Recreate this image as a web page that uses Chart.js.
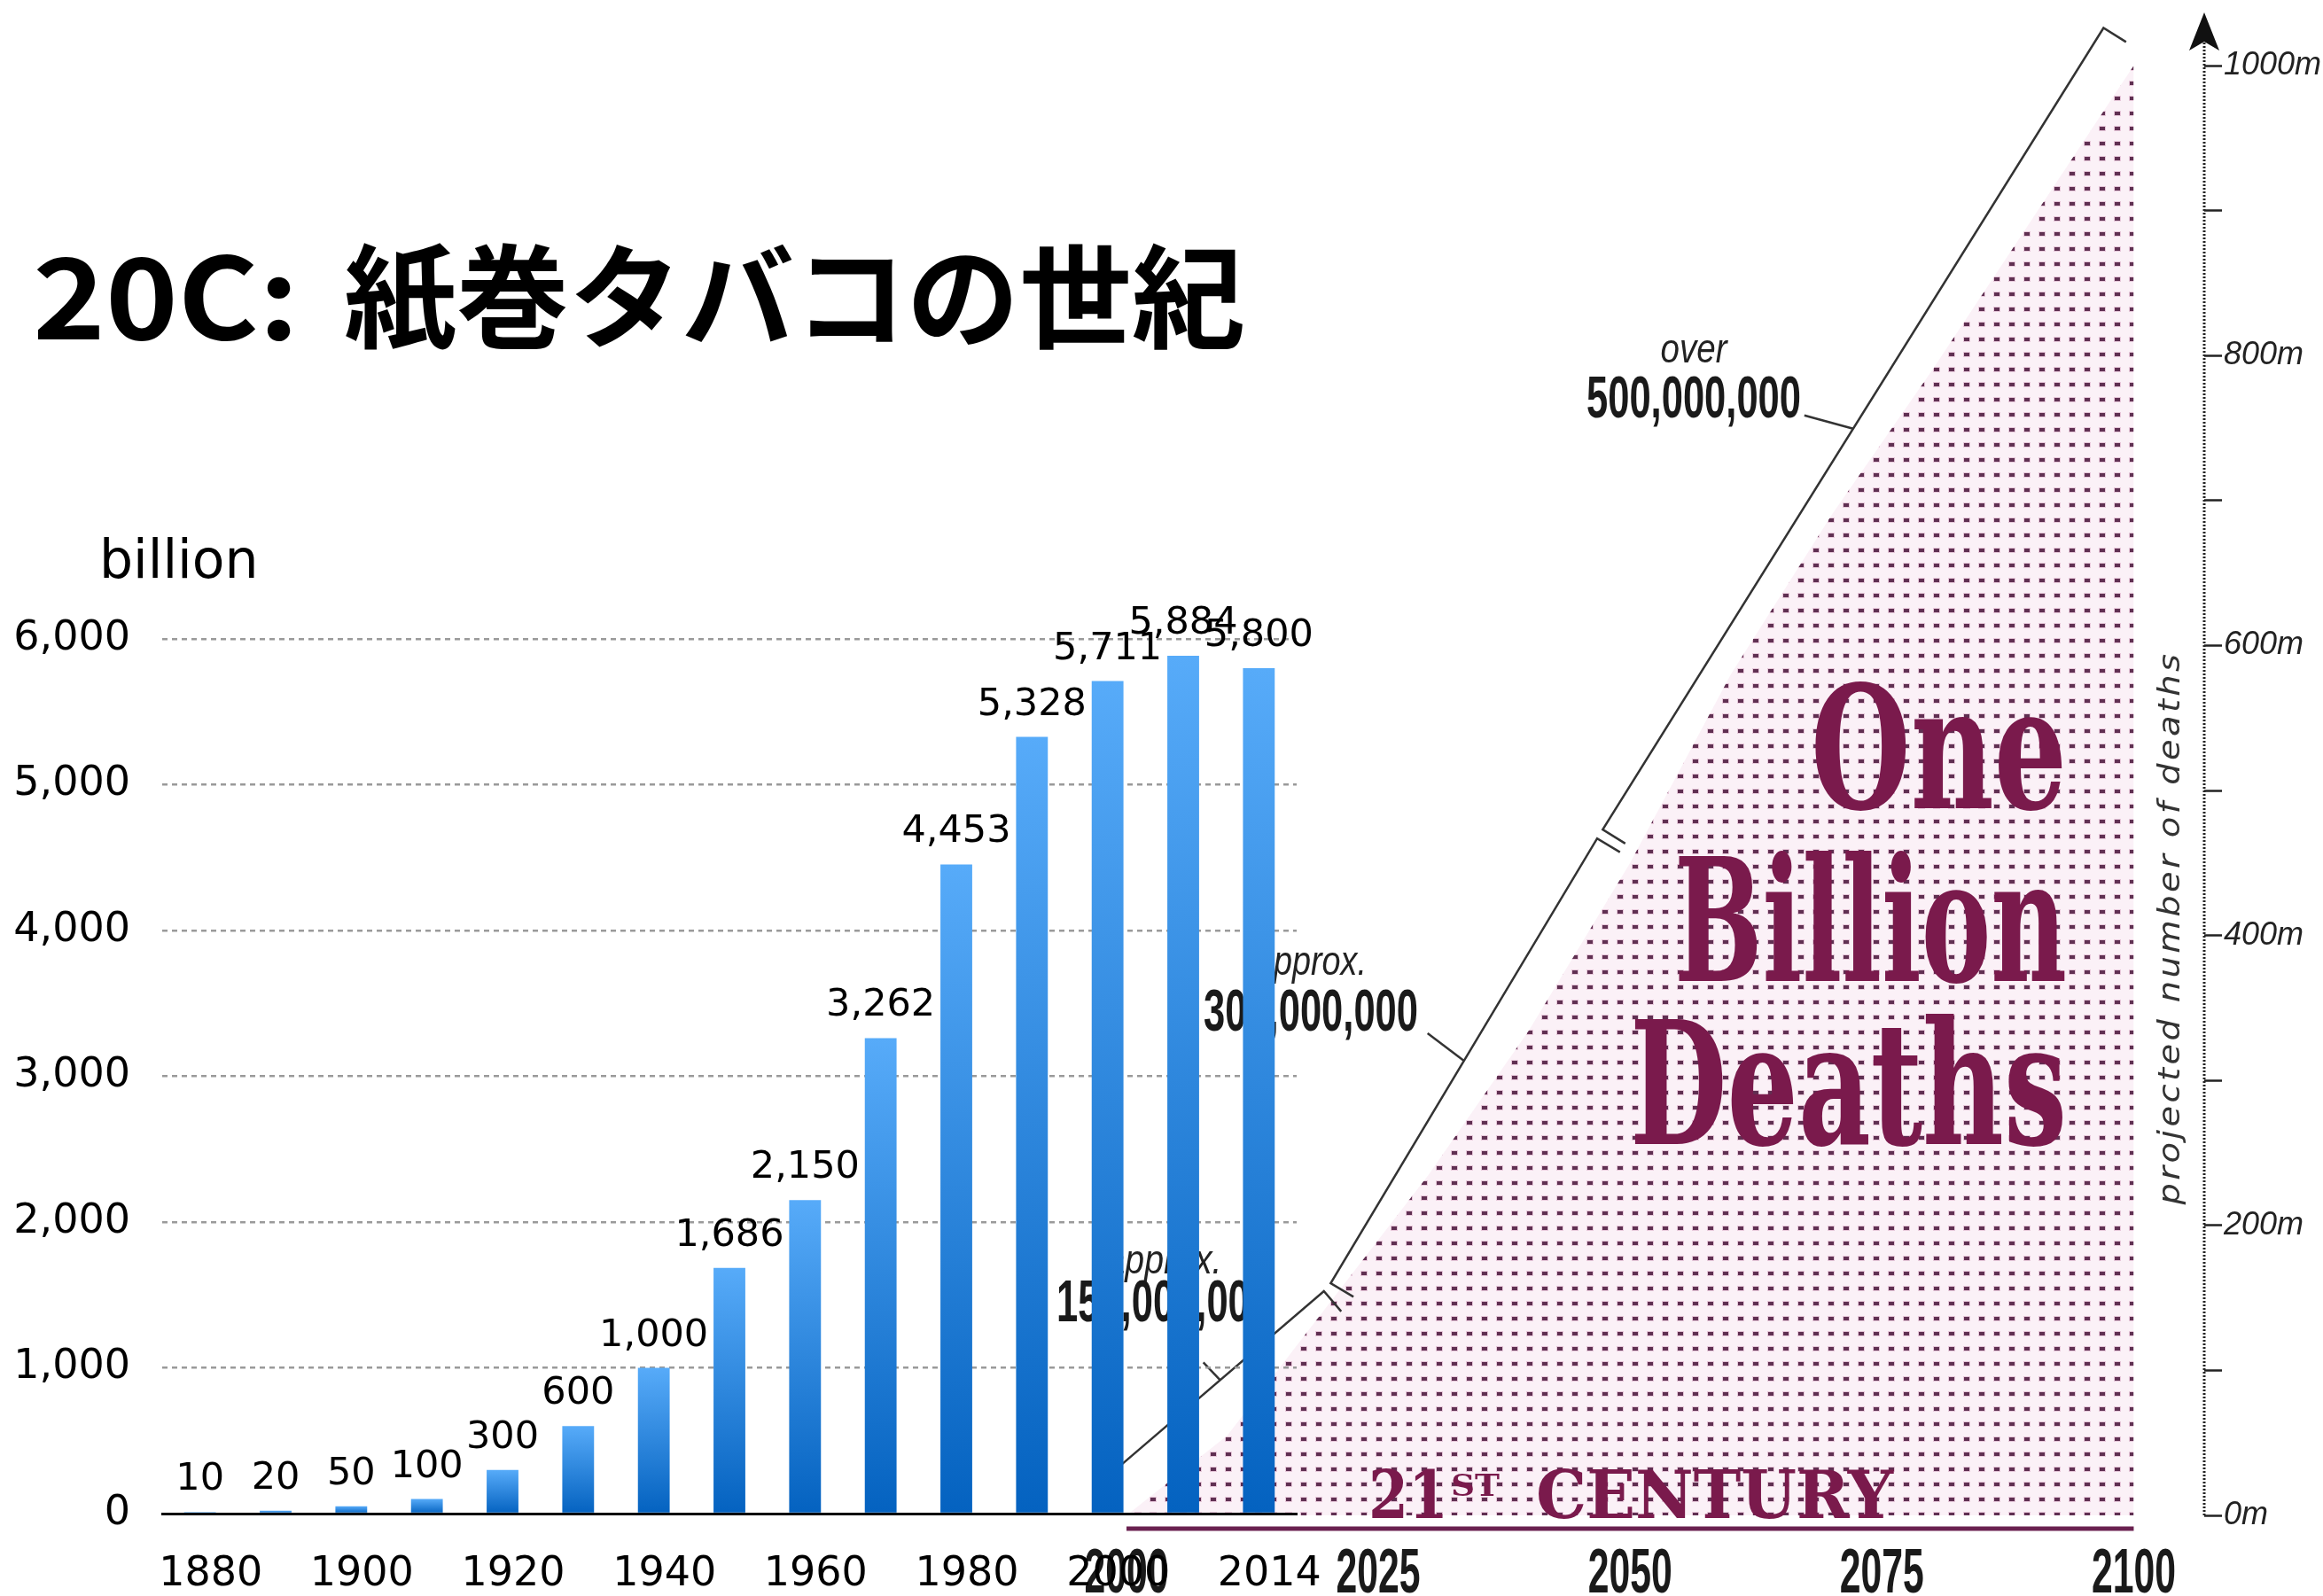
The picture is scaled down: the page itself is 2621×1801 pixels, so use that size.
<!DOCTYPE html>
<html>
<head>
<meta charset="utf-8">
<script src="https://cdn.jsdelivr.net/npm/chart.js@4.4.1/dist/chart.umd.min.js"></script>
<style>
  html, body { margin: 0; padding: 0; background: #fff; }
  #wrap { position: relative; width: 2621px; height: 1801px; overflow: hidden; background: #fff; }
  canvas { position: absolute; left: 0; top: 0; }
</style>
</head>
<body>
<div id="wrap">
  <canvas id="futureChart" width="2621" height="1801"></canvas>
  <canvas id="cigChart" width="2621" height="1801"></canvas>
</div>
<script>
// ===== data =====
// cigarette consumption, billion per year
const yearLabels = ['1880', '1890', '1900', '1910', '1920', '1930', '1940', '1950', '1960', '1970', '1980', '1990', '2000', '2010', '2014'];
const cigarettes = [10, 20, 50, 100, 300, 600, 1000, 1686, 2150, 3262, 4453, 5328, 5711, 5884, 5800];

// projected cumulative deaths in the 21st century, millions
const deathYears = [2000, 2010, 2020, 2030, 2040, 2050, 2060, 2070, 2080, 2090, 2100];
const deathsMillions = [0, 55, 145, 235, 335, 450, 580, 690, 790, 895, 1000];
const futureTickYears = [2000, 2025, 2050, 2075, 2100];

// bracket along the slope (year, millions) and its labels
const bracketYears = [1999, 2020, 2047, 2097];
const bracketValues = [32, 157, 470, 1026];
const bracketTop = ['approx.', 'approx.', 'over'];
const bracketNumbers = ['150,000,000', '300,000,000', '500,000,000'];

// ===== helpers =====
const NARROW = '"Liberation Sans Narrow", "Liberation Sans", sans-serif';

function fitText(ctx, text, x, y, font, width, align, color) {
    ctx.save();
    ctx.font = font;
    const w = ctx.measureText(text).width;
    const sx = width ? width / w : 1;
    ctx.translate(x, y);
    ctx.scale(sx, 1);
    ctx.textAlign = align || 'left';
    ctx.textBaseline = 'alphabetic';
    ctx.fillStyle = color || '#000';
    ctx.fillText(text, 0, 0);
    ctx.restore();
}

function makeDotPattern(target) {
    const c = document.createElement('canvas');
    c.width = 17; c.height = 17;
    const g = c.getContext('2d');
    g.fillStyle = 'rgba(247,230,240,0.55)';
    g.fillRect(0, 0, 17, 17);
    g.fillStyle = 'rgba(190,115,160,0.32)';
    g.fillRect(5, 6, 8, 6);
    g.fillStyle = '#603052';
    g.fillRect(6, 7, 6, 4);
    return target.getContext('2d').createPattern(c, 'repeat');
}

function barGradient(c) {
    const chart = c.chart;
    if (!chart.chartArea || c.type !== 'data') return '#2f86dd';
    const ys = chart.scales.y;
    const top = ys.getPixelForValue(c.raw);
    const base = ys.getPixelForValue(0);
    if (base - top < 1) return '#0a66c4';
    const g = chart.ctx.createLinearGradient(0, top, 0, base);
    g.addColorStop(0, '#57abf9');
    g.addColorStop(1, '#0462c0');
    return g;
}

// ===== background: one billion deaths =====
const MAGENTA = '#7a1a4c';

const futureDecor = {
    id: 'futureDecor',
    afterDraw(chart) {
        const { ctx, scales: { x, y }, chartArea } = chart;
        const y0 = y.getPixelForValue(0);

        // big serif title inside the dots
        const serif = 'bold 192px "DejaVu Serif", serif';
        fitText(ctx, 'One', 2332, 912, serif, 289, 'right', MAGENTA);
        fitText(ctx, 'Billion', 2332, 1107, serif, 443, 'right', MAGENTA);
        fitText(ctx, 'Deaths', 2332, 1291, serif, 493, 'right', MAGENTA);

        // 21st century
        const slab = '"DejaVu Serif", serif';
        fitText(ctx, '21', 1544, 1713, 'bold 74px ' + slab, 90, 'left', MAGENTA);
        fitText(ctx, 'ST', 1637, 1688, 'bold 34px ' + slab, 55, 'left', MAGENTA);
        fitText(ctx, 'CENTURY', 1733, 1713, 'bold 74px ' + slab, 403, 'left', MAGENTA);

        // purple baseline
        ctx.save();
        ctx.strokeStyle = '#6a2150';
        ctx.lineWidth = 5;
        ctx.beginPath();
        ctx.moveTo(x.getPixelForValue(2000), y0 + 15);
        ctx.lineTo(x.getPixelForValue(2100), y0 + 15);
        ctx.stroke();
        ctx.restore();

        // bracket segments with end ticks and leaders
        const leaders = [[-19, -20], [-41, -31], [-55, -15]];
        const labelPos = [
            { cx: 1313, topY: 1437, numY: 1491, topW: 131 },
            { cx: 1479, topY: 1100, numY: 1163, topW: 126 },
            { cx: 1911, topY: 409, numY: 471, topW: 75 }
        ];
        ctx.save();
        ctx.strokeStyle = '#333';
        ctx.lineWidth = 2.5;
        const n = bracketYears.length - 1;
        for (let i = 0; i < n; i++) {
            let x1 = x.getPixelForValue(bracketYears[i]), y1 = y.getPixelForValue(bracketValues[i]);
            let x2 = x.getPixelForValue(bracketYears[i + 1]), y2 = y.getPixelForValue(bracketValues[i + 1]);
            const len = Math.hypot(x2 - x1, y2 - y1);
            const ux = (x2 - x1) / len, uy = (y2 - y1) / len;
            const g1 = i > 0 ? 6 : 0, g2 = i < n - 1 ? 6 : 0;
            x1 += ux * g1; y1 += uy * g1;
            x2 -= ux * g2; y2 -= uy * g2;
            const px = -uy * 30, py = ux * 30;
            ctx.beginPath();
            if (i > 0) { ctx.moveTo(x1 + px, y1 + py); ctx.lineTo(x1, y1); } else { ctx.moveTo(x1, y1); }
            ctx.lineTo(x2, y2);
            ctx.lineTo(x2 + px, y2 + py);
            ctx.stroke();
            const mx = (x1 + x2) / 2, my = (y1 + y2) / 2;
            ctx.beginPath();
            ctx.moveTo(mx, my);
            ctx.lineTo(mx + leaders[i][0], my + leaders[i][1]);
            ctx.stroke();

            const p = labelPos[i];
            fitText(ctx, bracketTop[i], p.cx, p.topY, 'italic 46px ' + NARROW, p.topW, 'center', '#222');
            fitText(ctx, bracketNumbers[i], p.cx, p.numY, 'bold 67px ' + NARROW, 242, 'center', '#1a1a1a');
        }
        ctx.restore();

        // year labels under the baseline
        futureTickYears.forEach(yr => {
            fitText(ctx, String(yr), x.getPixelForValue(yr), 1797, 'bold 70px ' + NARROW, 95, 'center', '#1a1a1a');
        });

        // dotted vertical axis with arrow
        const ax = chartArea.right;
        ctx.save();
        ctx.strokeStyle = '#222';
        ctx.lineWidth = 3;
        ctx.setLineDash([2, 2]);
        ctx.beginPath();
        ctx.moveTo(ax, y0);
        ctx.lineTo(ax, 48);
        ctx.stroke();
        ctx.setLineDash([]);
        ctx.fillStyle = '#111';
        ctx.beginPath();
        ctx.moveTo(ax, 14);
        ctx.lineTo(ax + 17, 57);
        ctx.lineTo(ax, 47);
        ctx.lineTo(ax - 17, 57);
        ctx.closePath();
        ctx.fill();
        ctx.restore();

        // rotated axis title
        ctx.save();
        ctx.translate(2450, 1047);
        ctx.rotate(-Math.PI / 2);
        ctx.font = 'italic 200 34px "DejaVu Sans", sans-serif';
        ctx.letterSpacing = '3px';
        const w = ctx.measureText('projected number of deaths').width;
        ctx.scale(625 / w, 1);
        ctx.textAlign = 'center';
        ctx.textBaseline = 'middle';
        ctx.fillStyle = '#333';
        ctx.fillText('projected number of deaths', 0, 0);
        ctx.restore();
    }
};

const futureCanvas = document.getElementById('futureChart');
new Chart(futureCanvas, {
    type: 'line',
    data: {
        datasets: [{
            data: deathYears.map((yr, i) => ({ x: yr, y: deathsMillions[i] })),
            fill: 'origin',
            backgroundColor: makeDotPattern(futureCanvas),
            borderColor: 'rgba(0,0,0,0)',
            borderWidth: 0,
            pointRadius: 0,
            tension: 0
        }]
    },
    options: {
        responsive: false,
        animation: false,
        events: [],
        layout: { padding: { left: 1271, top: 74, right: 0, bottom: 91 } },
        plugins: { legend: { display: false }, tooltip: { enabled: false } },
        scales: {
            x: { type: 'linear', min: 2000, max: 2107, display: false },
            y: {
                position: 'right',
                min: 0,
                max: 1000,
                afterFit: s => { s.width = 134; },
                border: { display: false },
                grid: { drawOnChartArea: false, tickLength: 20, tickColor: '#222', tickWidth: 2.5, tickBorderDash: [] },
                ticks: {
                    stepSize: 100,
                    autoSkip: false,
                    padding: 2,
                    color: '#222',
                    font: { family: '"Liberation Sans", Arial, sans-serif', size: 36, style: 'italic' },
                    callback: v => v % 200 === 0 ? v + 'm' : ''
                }
            }
        }
    },
    plugins: [futureDecor]
});

// ===== foreground: cigarette bars =====
const cigDecor = {
    id: 'cigDecor',
    afterDraw(chart) {
        const ctx = chart.ctx;
        ctx.save();
        ctx.fillStyle = '#000';
        ctx.textBaseline = 'alphabetic';

        const titleFont = 'bold 127px "Noto Sans CJK JP", sans-serif';
        fitText(ctx, '20C:', 37, 383, titleFont, 300, 'left', '#000');
        ctx.font = titleFont;
        ctx.textAlign = 'left';
        ctx.fillText('紙巻タバコの世紀', 388, 383);

        ctx.font = '60px "DejaVu Sans", sans-serif';
        ctx.fillText('billion', 112, 652);

        ctx.font = '43px "DejaVu Sans", sans-serif';
        ctx.textAlign = 'center';
        chart.getDatasetMeta(0).data.forEach((bar, i) => {
            ctx.fillText(cigarettes[i].toLocaleString('en-US'), bar.x, bar.y - 25);
        });
        ctx.restore();
    }
};

new Chart(document.getElementById('cigChart'), {
    type: 'bar',
    data: {
        labels: yearLabels,
        datasets: [{ data: cigarettes, backgroundColor: barGradient, barPercentage: 0.42, categoryPercentage: 1 }]
    },
    options: {
        responsive: false,
        animation: false,
        events: [],
        layout: { padding: { left: 0, top: 721, right: 1158, bottom: 0 } },
        plugins: { legend: { display: false }, tooltip: { enabled: false } },
        scales: {
            x: {
                afterFit: s => { s.height = 93; },
                grid: { display: false },
                border: { display: true, color: '#000', width: 3 },
                ticks: {
                    autoSkip: false,
                    maxRotation: 0,
                    padding: 33,
                    labelOffset: 12,
                    color: '#000',
                    font: { family: '"DejaVu Sans"', size: 46 },
                    callback: (v, i) => i % 2 === 0 ? yearLabels[i] : ''
                }
            },
            y: {
                min: 0,
                max: 6000,
                afterFit: s => { s.width = 183; },
                border: { display: false, dash: [6, 5] },
                grid: { drawTicks: false, lineWidth: 2.5, color: c => c.tick.value === 0 ? 'rgba(0,0,0,0)' : '#9a9a9a' },
                ticks: { stepSize: 1000, padding: 36, color: '#000', font: { family: '"DejaVu Sans"', size: 46 } }
            }
        }
    },
    plugins: [cigDecor]
});
</script>
</body>
</html>
